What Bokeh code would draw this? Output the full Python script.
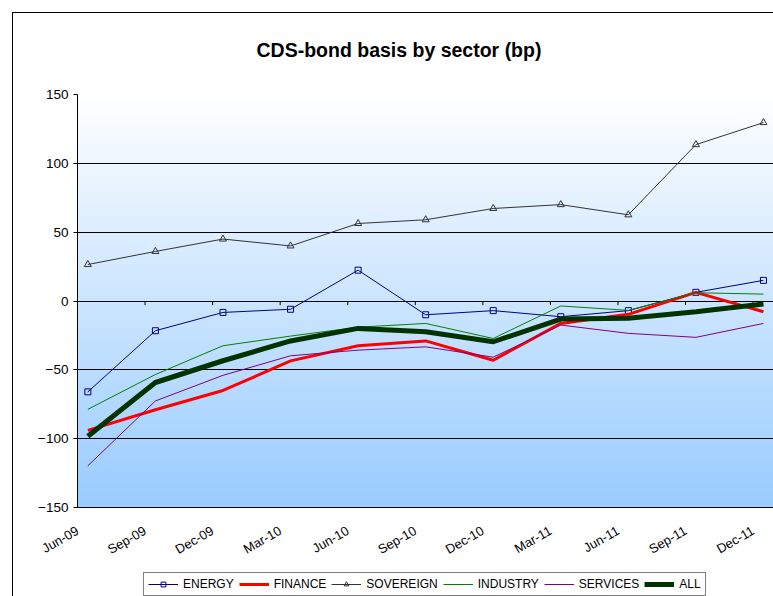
import numpy as np
from bokeh.plotting import figure
from bokeh.layouts import column
from bokeh.models import Range1d, FixedTicker, Legend, LegendItem, Title
from bokeh.embed import file_html
from bokeh.resources import INLINE

# ---- data ----
quarters = ["Jun-09", "Sep-09", "Dec-09", "Mar-10", "Jun-10", "Sep-10",
            "Dec-10", "Mar-11", "Jun-11", "Sep-11", "Dec-11"]
energy    = [-66.0, -21.6, -8.3, -6.0, 22.4, -10.0, -7.0, -11.4, -7.0, 6.3, 15.0]
finance   = [-94.0, -79.0, -65.0, -43.5, -32.5, -29.0, -43.0, -16.3, -9.7, 6.3, -7.8]
sovereign = [26.5, 36.0, 45.0, 40.0, 56.3, 59.0, 67.2, 70.0, 62.6, 113.6, 129.6]
industry  = [-78.7, -53.4, -32.5, -25.5, -19.0, -16.3, -27.2, -3.6, -6.8, 6.0, 5.0]
services  = [-119.7, -72.6, -54.0, -39.8, -35.7, -33.3, -40.8, -17.5, -23.5, -26.4, -16.3]
all_avg   = [-98.3, -59.2, -43.4, -29.0, -19.9, -22.3, -29.6, -13.1, -12.6, -7.8, -2.2]
series_names = ["ENERGY", "FINANCE", "SOVEREIGN", "INDUSTRY", "SERVICES", "ALL"]
y_ticks = [-150, -100, -50, 0, 50, 100, 150]

# months since Jun-09 for each quarter label; observations sit mid-month
month_ticks = [3 * i for i in range(len(quarters))]
x = [m + 0.46 for m in month_ticks]

FONT = "Liberation Sans"
y_lo, y_hi = y_ticks[0], y_ticks[-1]

STYLE = {
    "ENERGY":    dict(color="#000080", width=1, marker="square", size=6),
    "FINANCE":   dict(color="#FF0000", width=3, marker=None, size=0),
    "SOVEREIGN": dict(color="#333333", width=1, marker="triangle", size=7),
    "INDUSTRY":  dict(color="#008000", width=1, marker=None, size=0),
    "SERVICES":  dict(color="#800080", width=1, marker=None, size=0),
    "ALL":       dict(color="#003300", width=5, marker=None, size=0),
}
values = {"ENERGY": energy, "FINANCE": finance, "SOVEREIGN": sovereign,
          "INDUSTRY": industry, "SERVICES": services, "ALL": all_avg}

# ---------------- main chart ----------------
p = figure(width=761, height=560, output_backend="svg", toolbar_location=None,
           x_range=Range1d(0, 30.95), y_range=Range1d(y_lo, y_hi),
           min_border_left=64, min_border_right=0, min_border_top=81,
           min_border_bottom=66)
p.margin = (12, 0, 0, 12)
p.styles = {"border-top": "1px solid black", "border-left": "1px solid black"}
p.outline_line_color = None
p.background_fill_color = "white"
p.border_fill_color = "white"

# gradient plot-area background (white -> light blue)
n = 300
t = np.linspace(1.0, 0.0, n)  # row 0 = bottom
top = np.array([255, 255, 255])
bot = np.array([153, 204, 255])
cols = (bot[None, :] * t[:, None] + top[None, :] * (1 - t[:, None])).astype(np.uint32)
img = np.empty((n, 1), dtype=np.uint32)
view = img.view(dtype=np.uint8).reshape((n, 1, 4))
view[:, 0, 0] = cols[:, 0]
view[:, 0, 1] = cols[:, 1]
view[:, 0, 2] = cols[:, 2]
view[:, 0, 3] = 255
p.image_rgba(image=[img], x=0, y=y_lo, dw=31, dh=y_hi - y_lo, level="image")

# grid
p.xgrid.visible = False
p.ygrid.ticker = FixedTicker(ticks=y_ticks)
p.ygrid.grid_line_color = "black"
p.ygrid.grid_line_width = 1
p.ygrid.level = "image"

# y axis
p.yaxis.ticker = FixedTicker(ticks=y_ticks)
p.yaxis.axis_line_color = "black"
p.yaxis.major_tick_in = 0
p.yaxis.major_tick_out = 4
p.yaxis.minor_tick_line_color = None
p.yaxis.major_label_standoff = 5
p.yaxis.major_label_text_font = FONT
p.yaxis.major_label_text_font_size = "13.5px"
p.yaxis.major_label_text_color = "black"

# x axis (labels at the bottom; ticks drawn on the zero line)
p.xaxis.ticker = FixedTicker(ticks=month_ticks)
p.xaxis.major_label_overrides = {m: q for m, q in zip(month_ticks, quarters)}
p.xaxis.major_label_orientation = np.pi / 6
p.xaxis.major_tick_line_color = None
p.xaxis.minor_tick_line_color = None
p.xaxis.axis_line_color = "black"
p.xaxis.major_label_standoff = 16
p.xaxis.major_label_text_font = FONT
p.xaxis.major_label_text_font_size = "13px"
p.xaxis.major_label_text_color = "black"

p.segment(x0=month_ticks, y0=[0] * len(month_ticks), x1=month_ticks,
          y1=[-3] * len(month_ticks), line_color="black", line_width=1)

for name in series_names:
    st = STYLE[name]
    p.line(x, values[name], line_color=st["color"], line_width=st["width"])
    if st["marker"]:
        p.scatter(x, values[name], marker=st["marker"], size=st["size"],
                  line_color=st["color"], fill_color=None, line_width=1)

# spacer panel (nearest the plot) then the title above it
spacer = Title(text=" ", text_font_size="1px", standoff=26)
p.add_layout(spacer, "above")
title = Title(text="CDS-bond basis by sector (bp)", align="left", offset=179,
              text_font=FONT, text_font_size="19.5px", text_font_style="bold",
              text_color="black", standoff=10)
p.add_layout(title, "above")

# ---------------- legend strip ----------------
# same series, drawn off-view: only their legend keys are visible here
lg = figure(width=761, height=24, output_backend="svg", toolbar_location=None,
            x_range=Range1d(1000, 1001), y_range=Range1d(1000, 1001),
            x_axis_location=None, y_axis_location=None,
            min_border_left=0, min_border_right=0, min_border_top=0,
            min_border_bottom=0)
lg.margin = (0, 0, 0, 12)
lg.styles = {"border-left": "1px solid black"}
lg.outline_line_color = None
lg.grid.visible = False
lg.background_fill_color = "white"
lg.border_fill_color = "white"

items = []
for name in series_names:
    st = STYLE[name]
    rs = [lg.line(x, values[name], line_color=st["color"], line_width=st["width"])]
    if st["marker"]:
        rs.append(lg.scatter(x, values[name], marker=st["marker"], size=st["size"] - 1,
                             line_color=st["color"], fill_color=None, line_width=1))
    items.append(LegendItem(label=name, renderers=rs))

legend = Legend(items=items, orientation="horizontal", location=(66, 0))
legend.margin = 0
legend.padding = 4
legend.spacing = 5
legend.glyph_width = 30
legend.glyph_height = 12
legend.label_standoff = 5
legend.label_text_font = FONT
legend.label_text_font_size = "12px"
legend.label_text_color = "black"
legend.label_height = 12
legend.border_line_color = "black"
legend.border_line_width = 1
legend.background_fill_color = "white"
legend.background_fill_alpha = 1
lg.add_layout(legend, "center")

layout = column(p, lg, spacing=0)
open("out.html", "w").write(file_html(layout, INLINE))
